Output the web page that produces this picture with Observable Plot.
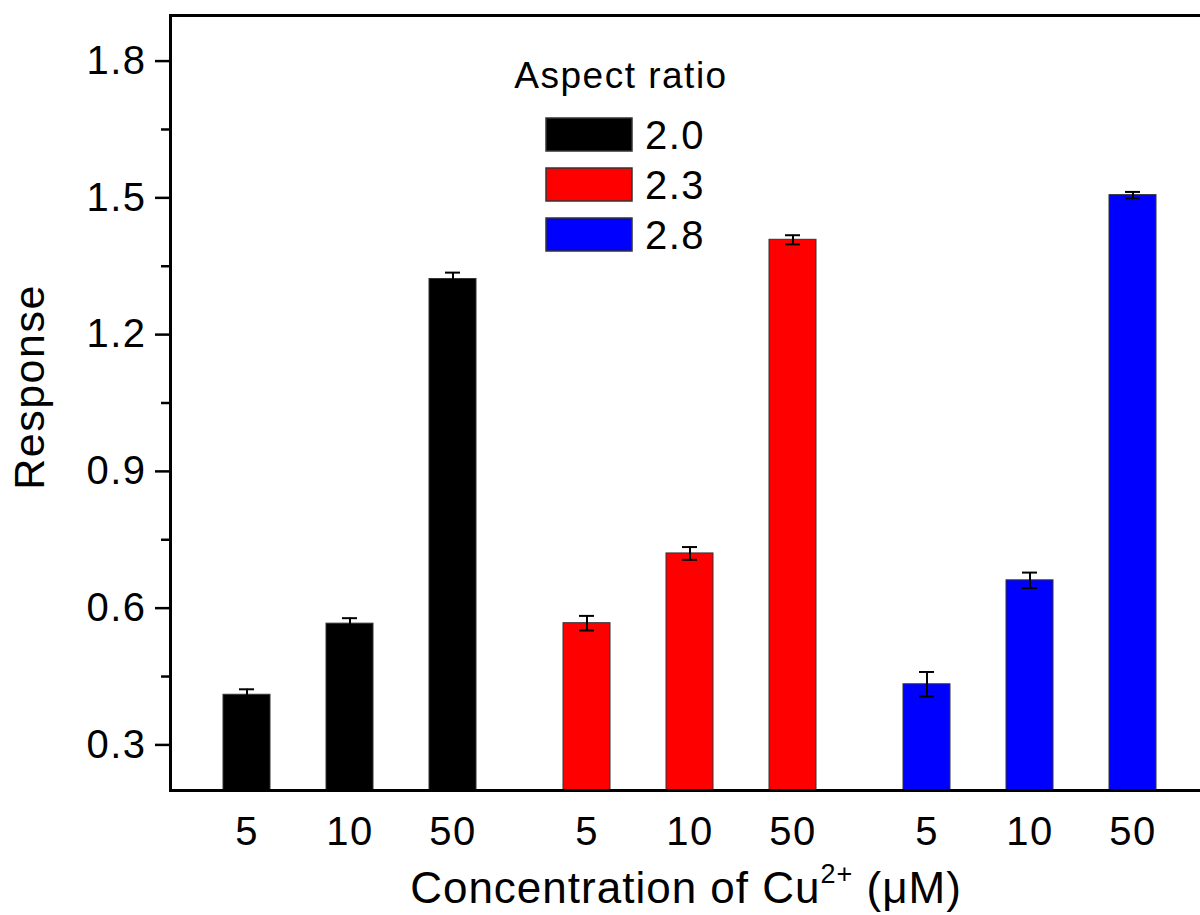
<!DOCTYPE html>
<html><head><meta charset="utf-8">
<script src="https://cdn.jsdelivr.net/npm/d3@7"></script>
<script src="https://cdn.jsdelivr.net/npm/@observablehq/plot@0.6"></script>
<style>
html,body{margin:0;padding:0;background:#fff;}
#chart{width:1200px;height:915px;overflow:hidden;}
#chart svg{overflow:hidden;font-family:"Liberation Sans",Arial,sans-serif;}
#chart svg text{letter-spacing:1.5px;}
#chart svg text.xtitle{letter-spacing:1px;}
</style></head><body><div id="chart"></div>
<script>
// ---- data ----
const aspectRatios = ["2.0", "2.3", "2.8"];
const concentrations = ["5", "10", "50"];
const response20 = [0.41, 0.566, 1.322];
const response23 = [0.567, 0.72, 1.408];
const response28 = [0.433, 0.661, 1.506];
const error20 = [0.012, 0.012, 0.014];
const error23 = [0.016, 0.014, 0.010];
const error28 = [0.027, 0.017, 0.007];
const seriesColors = ["#000000", "#ff0000", "#0000ff"];
const yTicks = [0.3, 0.6, 0.9, 1.2, 1.5, 1.8];
const yMinorTicks = [0.45, 0.75, 1.05, 1.35, 1.65];
const yDomain = [0.2, 1.9];
const legendTitle = "Aspect ratio";
const yTitle = "Response";

const responses = [response20, response23, response28];
const errors = [error20, error23, error28];
const table = [];
aspectRatios.forEach((a, i) => concentrations.forEach((c, j) =>
  table.push({ratio: a, conc: c, value: responses[i][j], err: errors[i][j]})));

const W = 1200, H = 915;
const plot = Plot.plot({
  width: W, height: H,
  marginLeft: 169, marginRight: 8.6, marginTop: 15, marginBottom: 125,
  style: {fontFamily: '"Liberation Sans", Arial, sans-serif', background: "white", color: "black"},
  fx: {domain: aspectRatios, paddingInner: 0, paddingOuter: 0, axis: null, label: null},
  x: {domain: concentrations, paddingInner: 0.543, paddingOuter: 0.41, align: 0.607, label: null},
  y: {domain: yDomain, label: null},
  color: {domain: aspectRatios, range: seriesColors},
  marks: [
    Plot.barY(table, {fx: "ratio", x: "conc", y: "value", fill: "ratio", stroke: "#333", strokeWidth: 1, clip: true}),
    Plot.ruleX(table, {fx: "ratio", x: "conc", y1: d => d.value - d.err, y2: d => d.value + d.err, stroke: "black", strokeWidth: 2}),
    Plot.tickY(table, {fx: "ratio", x: "conc", y: d => d.value + d.err, stroke: "black", strokeWidth: 2, insetLeft: 16, insetRight: 16}),
    Plot.tickY(table, {fx: "ratio", x: "conc", y: d => d.value - d.err, stroke: "black", strokeWidth: 2, insetLeft: 16, insetRight: 16}),
    Plot.axisX({tickSize: 0, tickPadding: 26, fontSize: 40, label: null}),
    Plot.axisY({ticks: yTicks, tickSize: 15, tickPadding: 9, tickFormat: d3.format(".1f"), fontSize: 40, strokeWidth: 2.5, label: null}),
    Plot.axisY({ticks: yMinorTicks, tickSize: 9, tickFormat: () => "", strokeWidth: 2.5, label: null}),
    Plot.frame({facet: "super", stroke: "black", strokeWidth: 3, insetRight: -12})
  ]
});
document.getElementById("chart").appendChild(plot);

// ---- titles & legend ----
const svg = d3.select(plot.tagName.toLowerCase() === "svg" ? plot : plot.querySelector("svg"));
const ff = '"Liberation Sans", Arial, sans-serif';

svg.append("text")
  .attr("transform", "translate(44,387) rotate(-90)")
  .attr("text-anchor", "middle").attr("font-family", ff).attr("font-size", 43).attr("fill", "black")
  .text(yTitle);

const xt = svg.append("text").attr("class", "xtitle").attr("x", 686).attr("y", 903).attr("text-anchor", "middle")
  .attr("font-family", ff).attr("font-size", 44).attr("fill", "black");
xt.append("tspan").text("Concentration of Cu");
xt.append("tspan").attr("font-size", 27).attr("dy", -20).text("2+");
xt.append("tspan").attr("dy", 20).text(" (\u03BCM)");

const lg = svg.append("g");
lg.append("text").attr("x", 621).attr("y", 88).attr("text-anchor", "middle")
  .attr("font-family", ff).attr("font-size", 37).attr("fill", "black").text(legendTitle);
aspectRatios.forEach((a, i) => {
  lg.append("rect").attr("x", 546).attr("y", 118 + i * 50).attr("width", 86).attr("height", 33)
    .attr("fill", seriesColors[i]).attr("stroke", "#333").attr("stroke-width", 1.5);
  lg.append("text").attr("x", 645).attr("y", 149 + i * 50).attr("text-anchor", "start")
    .attr("font-family", ff).attr("font-size", 40).attr("fill", "black").text(a);
});
</script></body></html>
